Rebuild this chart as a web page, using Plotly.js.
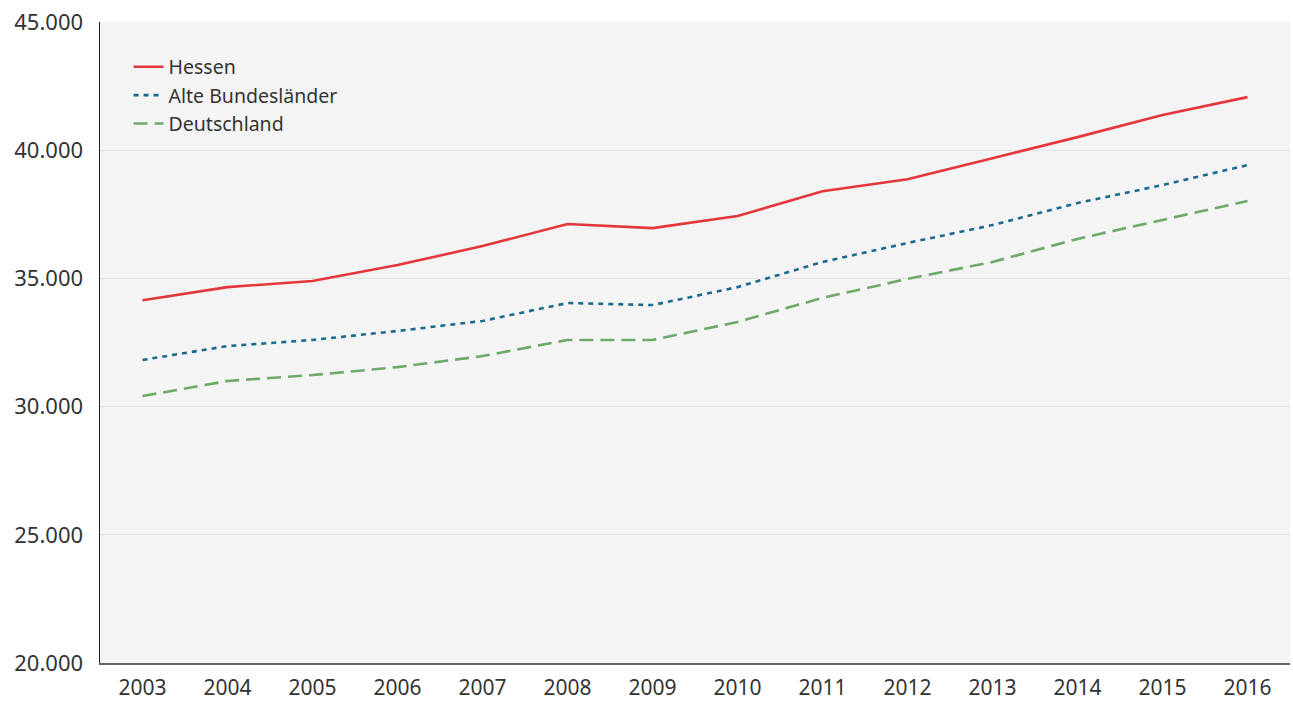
<!DOCTYPE html>
<html><head><meta charset="utf-8">
<script src="https://cdn.plot.ly/plotly-3.0.1.min.js"></script>
<style>html,body{margin:0;padding:0;background:#fff;}#chart{width:1293px;height:702px;}</style>
</head><body><div id="chart"></div>
<script>
var years = ["2003","2004","2005","2006","2007","2008","2009","2010","2011","2012","2013","2014","2015","2016"];
var hessen = [34150,34660,34900,35520,36260,37120,36960,37430,38400,38870,39690,40510,41370,42070];
var alteBL = [31820,32360,32600,32950,33340,34040,33960,34660,35640,36380,37080,37940,38640,39420];
var deutschland = [30410,31000,31230,31540,31970,32600,32600,33300,34240,34980,35640,36540,37280,38020];
var seriesNames = ["Hessen","Alte Bundesländer","Deutschland"];

var traces = [
  {x: years, y: hessen, name: seriesNames[0], type: "scatter", mode: "lines",
   line: {color: "#e3373c", width: 2.6}},
  {x: years, y: alteBL, name: seriesNames[1], type: "scatter", mode: "lines",
   line: {color: "#1c6b8e", width: 2.6, dash: "5px,5px"}},
  {x: years, y: deutschland, name: seriesNames[2], type: "scatter", mode: "lines",
   line: {color: "#6fa96a", width: 2.6, dash: "14px,7px"}}
];

var layout = {
  width: 1293, height: 702,
  margin: {l: 100, r: 3, t: 22, b: 39},
  paper_bgcolor: "#ffffff",
  plot_bgcolor: "#f4f4f4",
  separators: ",.",
  font: {family: "'Noto Sans', 'Open Sans', sans-serif", color: "#333333", size: 21},
  showlegend: true,
  legend: {x: 0.024, y: 0.96, xanchor: "left", yanchor: "top", bgcolor: "rgba(0,0,0,0)",
           font: {size: 19.5, color: "#333333"}, tracegroupgap: 0, itemwidth: 30},
  xaxis: {type: "category", range: [-0.5, 13.5], showgrid: false, zeroline: false,
          showline: true, linecolor: "#666666", linewidth: 2, ticks: "", ticklabelstandoff: 5,
          tickfont: {size: 21, color: "#333333"}},
  yaxis: {range: [20000, 45000], dtick: 5000, tick0: 20000, tickformat: ",d",
          showgrid: true, gridcolor: "#e2e2e2", gridwidth: 1, zeroline: false,
          showline: true, linecolor: "#222222", linewidth: 1.5, ticks: "",
          ticklabelstandoff: 11, tickfont: {size: 22, color: "#333333"}}
};

Plotly.newPlot("chart", traces, layout, {displayModeBar: false, staticPlot: true});
</script>
</body></html>
